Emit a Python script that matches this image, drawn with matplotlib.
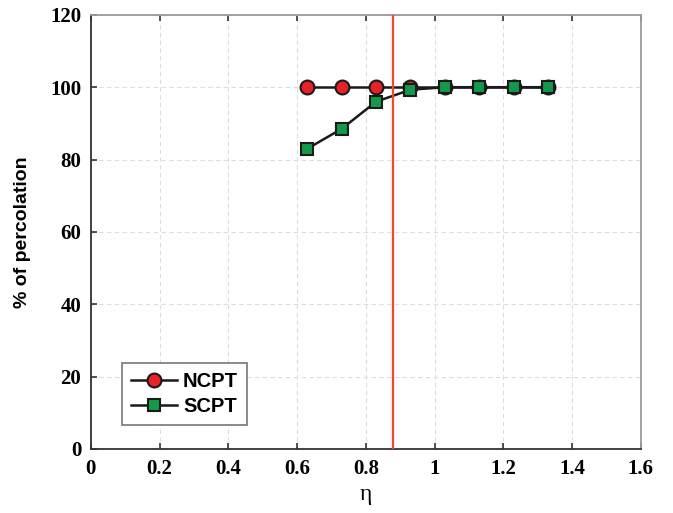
import matplotlib.pyplot as plt

eta = [0.63, 0.73, 0.83, 0.93, 1.03, 1.13, 1.23, 1.33]
ncpt = [100, 100, 100, 100, 100, 100, 100, 100]
scpt = [83.0, 88.5, 96.0, 99.3, 100, 100, 100, 100]
eta_c = 0.88

xticks = [0, 0.2, 0.4, 0.6, 0.8, 1, 1.2, 1.4, 1.6]
xticklabels = ['0', '0.2', '0.4', '0.6', '0.8', '1', '1.2', '1.4', '1.6']
yticks = [0, 20, 40, 60, 80, 100, 120]

fig = plt.figure(figsize=(6.73, 5.13), dpi=100)
ax = fig.add_axes([0.135, 0.125, 0.817, 0.846])

ax.plot(eta, ncpt, '-o', color='#1a1a1a', lw=1.8, ms=10,
        mfc='#e8202a', mec='#1a1a1a', mew=1.5, label='NCPT', zorder=3)
ax.plot(eta, scpt, '-s', color='#1a1a1a', lw=1.8, ms=8.5,
        mfc='#129a4a', mec='#1a1a1a', mew=1.5, label='SCPT', zorder=4)
ax.axvline(eta_c, color='#f04a2a', lw=1.6, zorder=5)

ax.set_xlim(0, 1.6)
ax.set_ylim(0, 120)
ax.set_xticks(xticks)
ax.set_xticklabels(xticklabels)
ax.set_yticks(yticks)
ax.grid(True, ls=(0, (4, 3)), color='#dddddd', lw=0.8)
ax.set_axisbelow(True)

for s in ['left', 'bottom']:
    ax.spines[s].set_color('#333333')
    ax.spines[s].set_linewidth(1.3)
for s in ['top', 'right']:
    ax.spines[s].set_color('#a09898')
    ax.spines[s].set_linewidth(1.3)

ax.tick_params(direction='in', length=4, width=1.2, top=True, right=False,
               colors='#333333', pad=7)
for lab in ax.get_xticklabels() + ax.get_yticklabels():
    lab.set_family('Liberation Serif')
    lab.set_fontweight('bold')
    lab.set_fontsize(15)
    lab.set_color('black')

ax.set_xlabel('η', fontsize=17, family='Liberation Serif', labelpad=4)
ax.set_ylabel('% of percolation', fontsize=14, fontweight='bold',
              family='Liberation Sans', labelpad=14)

leg = ax.legend(loc='lower left', bbox_to_anchor=(0.056, 0.055), borderaxespad=0,
                fancybox=False, edgecolor='#777777', framealpha=1,
                handlelength=2.3, handletextpad=0.3, borderpad=0.45,
                labelspacing=0.3,
                prop={'family': 'Liberation Sans', 'weight': 'bold', 'size': 14.5})
leg.get_frame().set_linewidth(1.2)

fig.savefig('out.png', dpi=100)
